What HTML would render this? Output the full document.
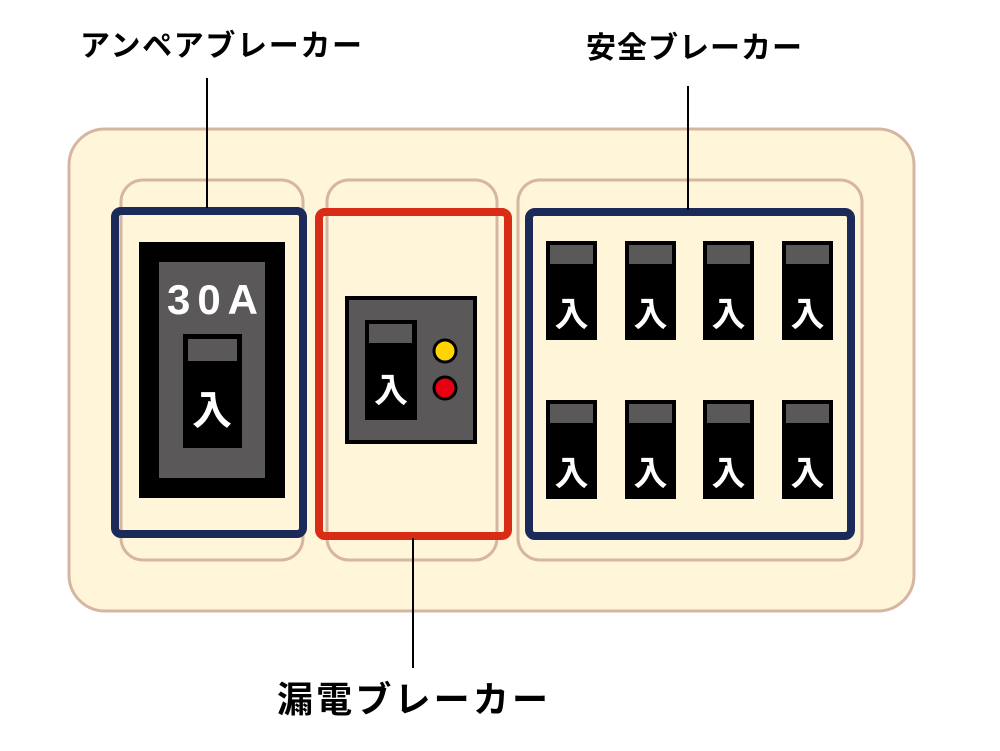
<!DOCTYPE html>
<html><head><meta charset="utf-8"><style>
body{margin:0;width:1000px;height:746px;background:#fff;overflow:hidden}
</style></head><body>
<svg width="1000" height="746" xmlns="http://www.w3.org/2000/svg" font-family="'Liberation Sans','Noto Sans CJK JP',sans-serif">
<rect x="69" y="129" width="845" height="482" rx="36" fill="#fff5d9" stroke="#d6b6a2" stroke-width="3"/>
<rect x="121" y="180" width="182" height="380" rx="22" fill="none" stroke="#d6b6a2" stroke-width="3"/>
<rect x="327" y="180" width="170" height="380" rx="22" fill="none" stroke="#d6b6a2" stroke-width="3"/>
<rect x="518" y="180" width="344" height="380" rx="22" fill="none" stroke="#d6b6a2" stroke-width="3"/>
<rect x="115" y="211" width="188" height="323" rx="6" fill="none" stroke="#1c2a5a" stroke-width="8"/>
<rect x="319" y="212" width="189" height="324" rx="6" fill="none" stroke="#d92c17" stroke-width="8"/>
<rect x="529" y="212" width="322" height="324" rx="6" fill="none" stroke="#1c2a5a" stroke-width="8"/>
<line x1="207" y1="78" x2="207" y2="208" stroke="#000" stroke-width="2"/>
<line x1="688" y1="86" x2="688" y2="210" stroke="#000" stroke-width="2"/>
<line x1="413" y1="538" x2="413" y2="668" stroke="#000" stroke-width="2"/>
<text x="80" y="56" font-size="30" font-weight="bold" textLength="282" lengthAdjust="spacing">アンペアブレーカー</text>
<text x="586" y="58" font-size="30" font-weight="bold" textLength="216" lengthAdjust="spacing">安全ブレーカー</text>
<text x="277" y="712" font-size="36" font-weight="bold" textLength="271" lengthAdjust="spacing">漏電ブレーカー</text>
<rect x="139" y="242" width="146" height="256" fill="#000"/>
<rect x="159" y="262" width="106" height="216" fill="#5a5859"/>
<text x="167" y="314" font-size="42" font-weight="bold" fill="#fff" textLength="91" lengthAdjust="spacing">30A</text>
<rect x="183" y="334" width="59" height="114" fill="#000"/>
<rect x="188" y="339" width="49" height="22" fill="#5a5859"/>
<text x="212" y="424" font-size="40" font-weight="bold" fill="#fff" text-anchor="middle">入</text>
<rect x="347" y="298" width="128" height="144" fill="#5a5859" stroke="#000" stroke-width="4"/>
<rect x="365" y="320" width="52" height="100" fill="#000"/>
<rect x="369" y="324" width="43" height="19" fill="#5a5859"/>
<text x="391" y="402" font-size="34" font-weight="bold" fill="#fff" text-anchor="middle">入</text>
<circle cx="445" cy="351" r="11" fill="#ffd400" stroke="#000" stroke-width="3"/>
<circle cx="445" cy="388" r="11" fill="#e60012" stroke="#000" stroke-width="3"/>
<g id="b">
<rect x="546" y="241" width="51" height="99" fill="#000"/>
<rect x="550" y="245" width="43" height="19" fill="#5a5859"/>
<text x="571.5" y="326" font-size="34" font-weight="bold" fill="#fff" text-anchor="middle">入</text>
</g>
<use href="#b" x="79"/><use href="#b" x="157"/><use href="#b" x="236"/>
<use href="#b" y="159"/><use href="#b" x="79" y="159"/><use href="#b" x="157" y="159"/><use href="#b" x="236" y="159"/>
</svg>
</body></html>
